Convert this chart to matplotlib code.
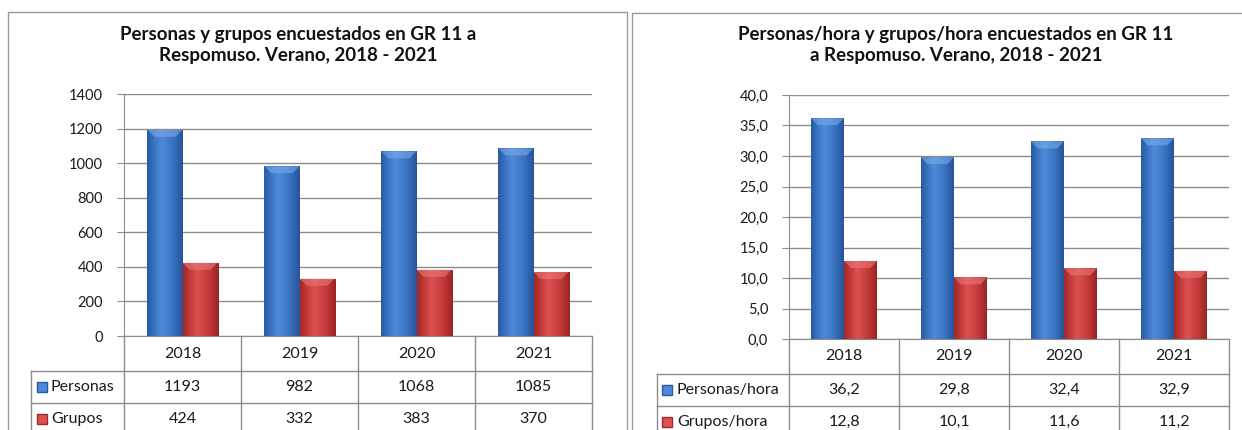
import matplotlib.pyplot as plt
import numpy as np
from matplotlib.colors import LinearSegmentedColormap
from matplotlib.patches import Rectangle, Polygon
from matplotlib.transforms import blended_transform_factory

years = ['2018', '2019', '2020', '2021']
personas = [1193, 982, 1068, 1085]
grupos = [424, 332, 383, 370]
personas_hora = [36.2, 29.8, 32.4, 32.9]
grupos_hora = [12.8, 10.1, 11.6, 11.2]

BLUE = ['#2a5a9f', '#3a74c4', '#4f8ad8', '#3870bf', '#275399']
RED = ['#a02828', '#c43a3a', '#dc5252', '#c23838', '#992525']
CAP = {'b': '#7fb0ec', 'r': '#ec7f7f'}
GRID = '#8c8c8c'

plt.rcParams['font.family'] = ['Lato', 'DejaVu Sans']

W, H = 1242, 430
fig = plt.figure(figsize=(W / 100, H / 100), dpi=100)


def px_axes(x0, y0, x1, y1):
    return fig.add_axes([x0 / W, 1 - y1 / H, (x1 - x0) / W, (y1 - y0) / H])


def shade(ax, bars, colors, cap, ymax):
    cmap = LinearSegmentedColormap.from_list('g', list(zip([0, 0.2, 0.4, 0.75, 1], colors)))
    grad = np.linspace(0, 1, 64).reshape(1, -1)
    hpx = ax.get_position().height * H
    dy = 7 * ymax / hpx
    for b in bars:
        x0, y0, w, h = b.get_x(), b.get_y(), b.get_width(), b.get_height()
        im = ax.imshow(grad, extent=[x0, x0 + w, y0, y0 + h], aspect='auto',
                       cmap=cmap, zorder=3, interpolation='bicubic')
        im.set_clip_path(b)
        # bevelled top
        dx = w * 0.2
        ax.add_patch(Polygon([(x0, y0 + h), (x0 + w, y0 + h), (x0 + w - dx, y0 + h - dy),
                              (x0 + dx, y0 + h - dy)], closed=True, color=cap, alpha=0.55,
                             lw=0, zorder=4))


def panel(ax, labels, s1, s2, ymax, step, fmt, table_left, icon_x, text_x):
    x = np.arange(len(years))
    w = 0.3
    b1 = ax.bar(x - w / 2, s1, w, color=BLUE[2], zorder=2, edgecolor='none')
    b2 = ax.bar(x + w / 2, s2, w, color=RED[2], zorder=2, edgecolor='none')
    shade(ax, b1, BLUE, CAP['b'], ymax)
    shade(ax, b2, RED, CAP['r'], ymax)

    ax.set_xlim(-0.5, len(years) - 0.5)
    ax.set_ylim(0, ymax)
    ax.set_yticks(np.arange(0, ymax + step / 2, step))
    ax.set_yticklabels([fmt(v) for v in np.arange(0, ymax + step / 2, step)])
    ax.set_xticks([])
    ax.tick_params(axis='y', length=5, color=GRID, pad=10, labelsize=10.5, labelcolor='#1a1a1a')
    ax.grid(axis='y', color=GRID, lw=1, zorder=0)
    ax.set_axisbelow(True)
    for s in ['top', 'right']:
        ax.spines[s].set_visible(False)
    ax.spines['left'].set_color(GRID)
    ax.spines['bottom'].set_color(GRID)

    # data table below the plot
    hpx = ax.get_position().height * H
    wpx = ax.get_position().width * W
    r0 = -35 / hpx
    r1 = r0 - 32 / hpx
    r2 = r1 - 32 / hpx
    tl = table_left / wpx
    kw = dict(color=GRID, lw=1, clip_on=False)
    bt = blended_transform_factory(ax.transData, ax.transAxes)
    for xb in np.arange(-0.5, len(years), 1.0):
        ax.plot([xb, xb], [0, r2], transform=bt, **kw)
    ax.plot([tl, 1], [r0, r0], transform=ax.transAxes, **kw)
    ax.plot([tl, 1], [r1, r1], transform=ax.transAxes, **kw)
    ax.plot([tl, tl], [r0, r2], transform=ax.transAxes, **kw)

    tk = dict(transform=bt, ha='center', va='center', fontsize=11.5, color='#1a1a1a')
    for i, yr in enumerate(years):
        ax.text(i, r0 / 2, yr, **tk)
        ax.text(i, (r0 + r1) / 2, fmt(s1[i]), **tk)
        ax.text(i, (r1 + r2) / 2, fmt(s2[i]), **tk)
    for (ya, yb), lab, col in zip([(r0, r1), (r1, r2)], labels, [BLUE, RED]):
        yc = (ya + yb) / 2
        ax.plot([icon_x / wpx], [yc], marker='s', ms=7.5, mfc=col[2], mec=col[0], mew=1,
                transform=ax.transAxes, clip_on=False)
        ax.text(text_x / wpx, yc, lab, transform=ax.transAxes, ha='left', va='center',
                fontsize=11.5, color='#1a1a1a')


def fmt_int(v):
    return '%d' % round(v)


def fmt_dec(v):
    return ('%.1f' % v).replace('.', ',')


# chart frames
fig.add_artist(Rectangle((8 / W, -0.05), (627 - 8) / W, 1.05 - 12 / H, transform=fig.transFigure,
                         fill=False, edgecolor='#9a9a9a', lw=1))
fig.add_artist(Rectangle((632 / W, -0.05), 0.5, 1.05 - 13 / H, transform=fig.transFigure,
                         fill=False, edgecolor='#9a9a9a', lw=1))

ax1 = px_axes(124, 94, 592, 336)
panel(ax1, ['Personas', 'Grupos'], personas, grupos, 1400, 200, fmt_int,
      31 - 124, 42 - 124, 51 - 124)

ax2 = px_axes(789, 95, 1229, 339)
panel(ax2, ['Personas/hora', 'Grupos/hora'], personas_hora, grupos_hora, 40, 5, fmt_dec,
      657 - 789, 667 - 789, 677 - 789)

fig.text(298 / W, 1 - 45 / H, 'Personas y grupos encuestados en GR 11 a\nRespomuso. Verano, 2018 - 2021',
         ha='center', va='center', fontsize=13.5, fontweight='bold', linespacing=1.35, color='#111111')
fig.text(956 / W, 1 - 45 / H, 'Personas/hora y grupos/hora encuestados en GR 11\na Respomuso. Verano, 2018 - 2021',
         ha='center', va='center', fontsize=13.5, fontweight='bold', linespacing=1.35, color='#111111')

fig.savefig('out.png', dpi=100)
